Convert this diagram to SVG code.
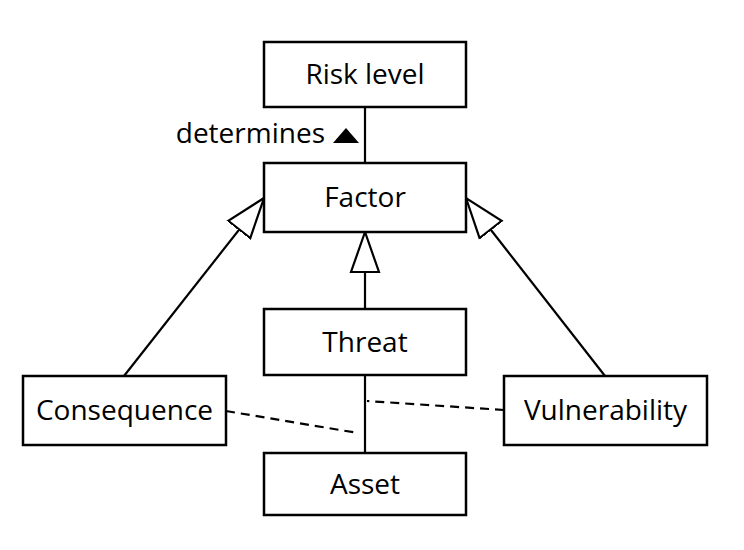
<svg xmlns="http://www.w3.org/2000/svg" width="744" height="550" viewBox="0 0 744 550">
<style>
.box{fill:#fff;stroke:#000;stroke-width:2.5}
.lbl{font-family:"Open Sans","Liberation Sans",sans-serif;font-size:28px;fill:#000;text-anchor:middle}
.ln{stroke:#000;stroke-width:2.2;fill:none}
.dash{stroke:#000;stroke-width:2.2;fill:none;stroke-dasharray:9 6}
</style>
<defs>
<marker id="gen" viewBox="0 -16 44 32" refX="41" refY="0" markerWidth="44" markerHeight="32" markerUnits="userSpaceOnUse" orient="auto">
<path d="M41,0 L1,-14 L1,14 Z" fill="#fff" stroke="#000" stroke-width="2.2" stroke-linejoin="miter"/>
</marker>
</defs>
<g id="connectors">
<line class="ln" x1="365" y1="107" x2="365" y2="163"/>
<line class="ln" x1="365" y1="309" x2="365" y2="232" marker-end="url(#gen)"/>
<line class="ln" x1="124" y1="376" x2="264" y2="198" marker-end="url(#gen)"/>
<line class="ln" x1="605" y1="376" x2="466" y2="198" marker-end="url(#gen)"/>
<line class="ln" x1="365" y1="375" x2="365" y2="453"/>
<line class="dash" x1="504" y1="410" x2="367" y2="401"/>
<line class="dash" x1="226" y1="411" x2="358" y2="433"/>
<g id="determines-label">
<text class="lbl" x="325" y="143" style="text-anchor:end">determines</text>
<polygon points="333,143 359,143 346,128" fill="#000"/>
</g>
</g>
<g id="risk-level">
<rect class="box" x="264" y="42" width="202" height="65"/>
<text class="lbl" x="365" y="84">Risk level</text>
</g>
<g id="factor">
<rect class="box" x="264" y="163" width="202" height="69"/>
<text class="lbl" x="365" y="207">Factor</text>
</g>
<g id="threat">
<rect class="box" x="264" y="309" width="202" height="66"/>
<text class="lbl" x="365" y="352">Threat</text>
</g>
<g id="consequence">
<rect class="box" x="23" y="376" width="203" height="69"/>
<text class="lbl" x="124.5" y="420">Consequence</text>
</g>
<g id="vulnerability">
<rect class="box" x="504" y="376" width="203" height="69"/>
<text class="lbl" x="605.5" y="420">Vulnerability</text>
</g>
<g id="asset">
<rect class="box" x="264" y="453" width="202" height="62"/>
<text class="lbl" x="365" y="494">Asset</text>
</g>
</svg>
